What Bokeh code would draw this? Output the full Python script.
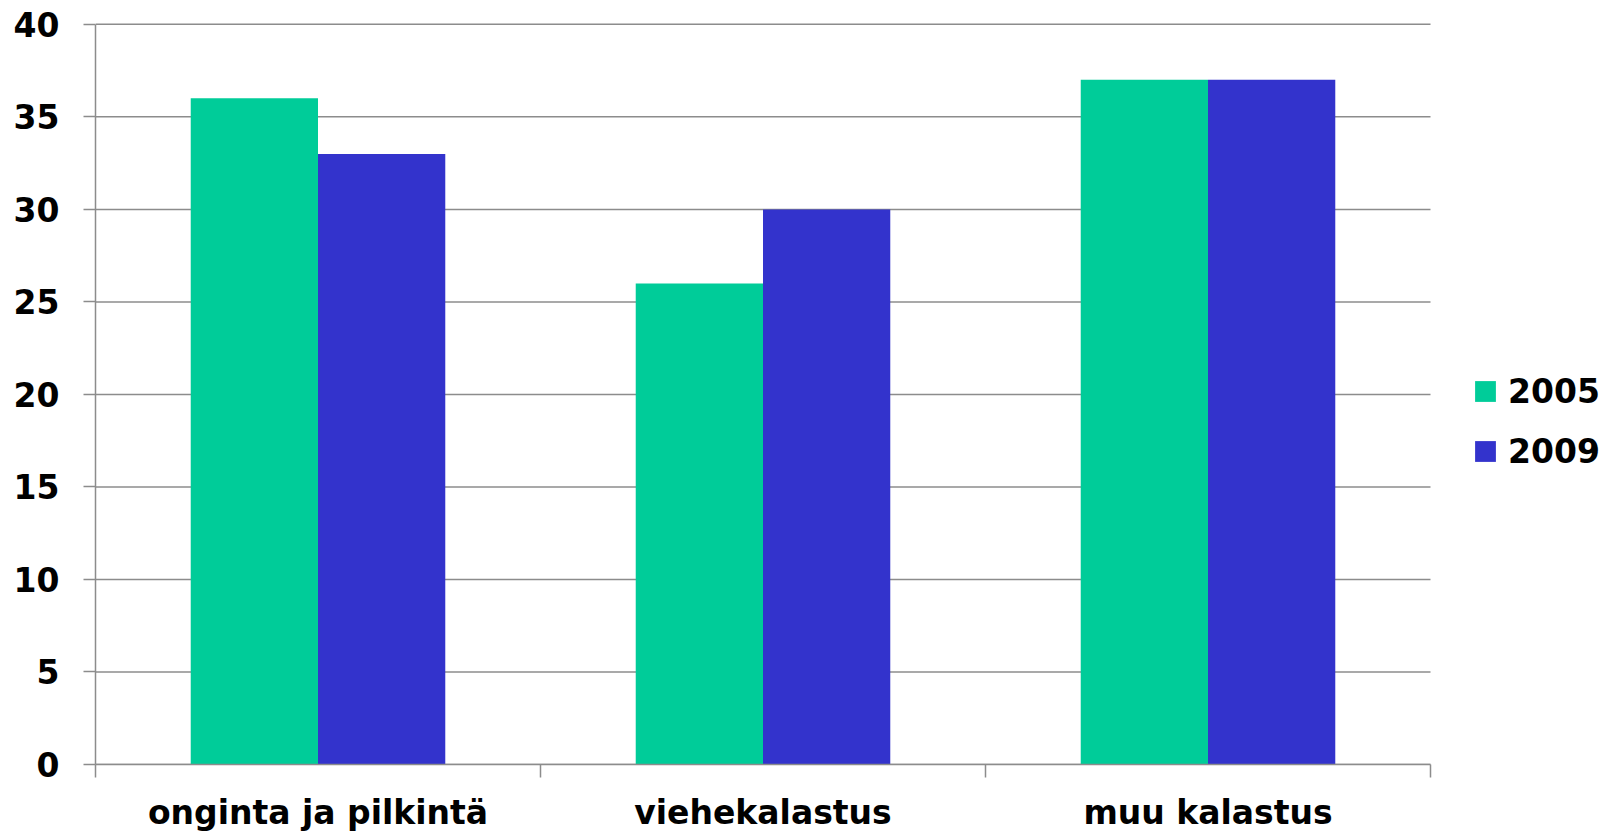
from bokeh.plotting import figure
from bokeh.models import Range1d, FixedTicker, Legend, LegendItem, ColumnDataSource
from bokeh.embed import file_html
from bokeh.resources import INLINE

categories = ["onginta ja pilkintä", "viehekalastus", "muu kalastus"]
series_names = ["2005", "2009"]
values_2005 = [36, 26, 37]
values_2009 = [33, 30, 37]
y_ticks = [0, 5, 10, 15, 20, 25, 30, 35, 40]

colors = ["#00CC99", "#3333CC"]
FONT = "DejaVu Sans"
GRAY = "#8c8c8c"

W, H = 1611, 835
LEFT, TOP, BOTTOM = 95, 22, 71
CAT_PX = 445  # pixel width of one category
n = len(categories)
x_end = (W - LEFT) / CAT_PX  # frame extends to the right edge; legend sits in the empty part

p = figure(width=W, height=H, output_backend="svg", toolbar_location=None,
           x_range=Range1d(0, x_end), y_range=Range1d(0, 40.1),
           min_border_left=LEFT, min_border_right=0, min_border_top=TOP, min_border_bottom=BOTTOM)
p.outline_line_color = None
p.background_fill_color = "white"
p.border_fill_color = "white"
p.xgrid.grid_line_color = None
p.ygrid.grid_line_color = None

# horizontal grid lines across the category area only
p.segment(x0=[0] * len(y_ticks), x1=[n] * len(y_ticks), y0=y_ticks, y1=y_ticks,
          line_color=GRAY, line_width=1.5)

idx = list(range(n))
bw = 0.286
src1 = ColumnDataSource(dict(x=[i + 0.5 - bw / 2 for i in idx], top=values_2005))
src2 = ColumnDataSource(dict(x=[i + 0.5 + bw / 2 for i in idx], top=values_2009))
r1 = p.vbar(x="x", top="top", width=bw, bottom=0, source=src1, fill_color=colors[0], line_color=None)
r2 = p.vbar(x="x", top="top", width=bw, bottom=0, source=src2, fill_color=colors[1], line_color=None)

# y axis
p.yaxis.ticker = FixedTicker(ticks=y_ticks)
p.yaxis.bounds = (0, 40)
p.yaxis.axis_line_color = GRAY
p.yaxis.axis_line_width = 1.5
p.yaxis.major_tick_line_color = GRAY
p.yaxis.major_tick_line_width = 1.5
p.yaxis.major_tick_out = 12
p.yaxis.major_tick_in = 0
p.yaxis.minor_tick_line_color = None
p.yaxis.major_label_standoff = 24
p.yaxis.major_label_text_font = FONT
p.yaxis.major_label_text_font_style = "bold"
p.yaxis.major_label_text_font_size = "33px"
p.yaxis.major_label_text_color = "black"

# x axis: labels at centers, boundary ticks as minor ticks
p.xaxis.ticker = FixedTicker(ticks=[i + 0.5 for i in idx], minor_ticks=list(range(n + 1)))
p.xaxis.bounds = (0, n)
p.xaxis.major_label_overrides = {i + 0.5: c for i, c in zip(idx, categories)}
p.xaxis.axis_line_color = GRAY
p.xaxis.axis_line_width = 1.5
p.xaxis.major_tick_line_color = None
p.xaxis.minor_tick_line_color = GRAY
p.xaxis.minor_tick_line_width = 1.5
p.xaxis.minor_tick_out = 13
p.xaxis.minor_tick_in = 0
p.xaxis.major_label_standoff = 15
p.xaxis.major_label_text_font = FONT
p.xaxis.major_label_text_font_style = "bold"
p.xaxis.major_label_text_font_size = "33px"
p.xaxis.major_label_text_color = "black"

legend = Legend(items=[LegendItem(label=series_names[0], renderers=[r1]),
                       LegendItem(label=series_names[1], renderers=[r2])],
                location=(1377, 293), orientation="vertical",
                glyph_width=26, glyph_height=26, label_standoff=10,
                label_text_font=FONT, label_text_font_style="bold",
                label_text_font_size="33px", label_text_color="black",
                label_height=40, spacing=20, padding=0, margin=0,
                border_line_color=None, background_fill_alpha=0)
p.add_layout(legend)

open("out.html", "w").write(file_html(p, INLINE))
